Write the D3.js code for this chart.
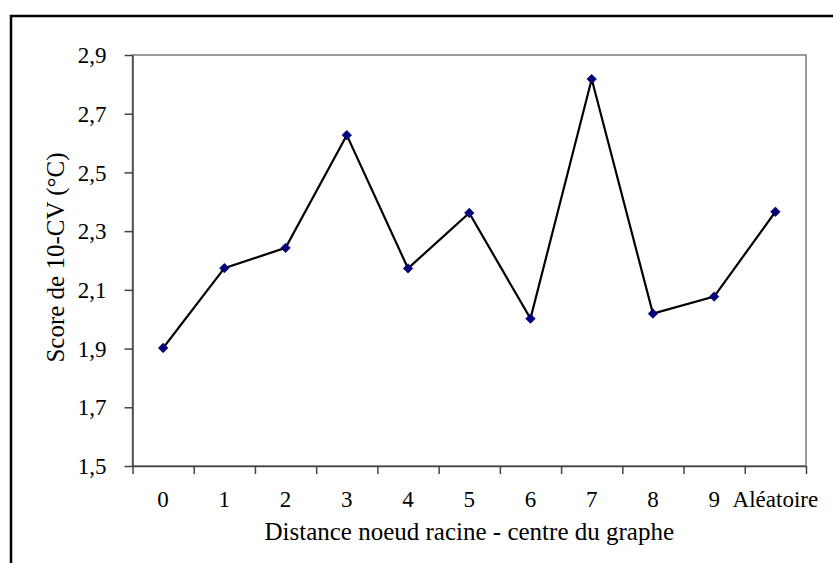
<!DOCTYPE html>
<html>
<head>
<meta charset="utf-8">
<script src="https://cdn.jsdelivr.net/npm/d3@7"></script>
<style>
  body { margin: 0; background: #fff; }
</style>
</head>
<body>
<div id="chart"></div>
<script>
// categories and values
var categories = ['0', '1', '2', '3', '4', '5', '6', '7', '8', '9', 'Aléatoire'];
var scores     = [1.902, 2.174, 2.243, 2.627, 2.173, 2.362, 2.002, 2.818, 2.019, 2.077, 2.366];
var yTicks     = [1.5, 1.7, 1.9, 2.1, 2.3, 2.5, 2.7, 2.9];

var xTitle = 'Distance noeud racine - centre du graphe',
    yTitle = 'Score de 10-CV (°C)';

var FONT = '"Liberation Serif", "Times New Roman", serif';

function draw_chart() {
	var W = 833, H = 563;
	var plot = { left: 132.5, top: 55, right: 806, bottom: 466 };

	var svg = d3.select('#chart').append('svg')
		.attr('width', W)
		.attr('height', H);

	// outer frame, runs off the right and bottom edges
	svg.append('rect')
		.attr('x', 11).attr('y', 16)
		.attr('width', W + 20).attr('height', H + 20)
		.style('fill', 'none')
		.style('stroke', '#000')
		.style('stroke-width', 2.5);

	var x = d3.scaleBand()
		.domain(categories)
		.range([plot.left, plot.right])
		.padding(0);

	// edges of the bands, for the tick marks
	var xEdge = d3.scaleLinear()
		.domain([0, categories.length])
		.range([plot.left, plot.right]);

	var y = d3.scaleLinear()
		.domain([1.5, 2.9])
		.range([plot.bottom, plot.top]);

	var frFormat = d3.formatLocale({ decimal: ',', thousands: ' ', grouping: [3], currency: ['', '€'] }).format('.1f');

	// plot area border (grey)
	svg.append('rect')
		.attr('x', plot.left).attr('y', plot.top)
		.attr('width', plot.right - plot.left)
		.attr('height', plot.bottom - plot.top)
		.style('fill', 'none')
		.style('stroke', '#7a7a7a')
		.style('stroke-width', 1.5);

	// y axis
	var yAxis = svg.append('g')
		.attr('transform', 'translate(' + plot.left + ',0)')
		.call(d3.axisLeft(y).tickValues(yTicks).tickFormat(frFormat).tickSize(8).tickPadding(18).tickSizeOuter(0));
	yAxis.selectAll('text')
		.style('font-family', FONT)
		.style('font-size', '23px')
		.style('fill', '#000')
		.attr('dy', '0.33em');

	// x axis: tick marks on band edges
	svg.append('g')
		.attr('transform', 'translate(0,' + plot.bottom + ')')
		.call(d3.axisBottom(xEdge).tickValues(d3.range(categories.length + 1)).tickFormat('').tickSize(8).tickSizeOuter(0));

	// x labels centred in the bands
	var xLabelAxis = svg.append('g')
		.attr('transform', 'translate(0,' + plot.bottom + ')')
		.call(d3.axisBottom(x).tickSize(0).tickPadding(0));
	xLabelAxis.select('.domain').remove();
	xLabelAxis.selectAll('text')
		.attr('y', 41)
		.attr('dy', 0)
		.style('font-family', FONT)
		.style('font-size', '23px')
		.style('fill', '#000');

	svg.selectAll('.domain, .tick line')
		.style('stroke', '#444')
		.style('stroke-width', 1.5);

	// axis titles
	svg.append('text')
		.attr('x', (plot.left + plot.right) / 2)
		.attr('y', 540)
		.attr('text-anchor', 'middle')
		.style('font-family', FONT)
		.style('font-size', '25px')
		.text(xTitle);

	svg.append('text')
		.attr('transform', 'translate(' + 64 + ',' + ((plot.top + plot.bottom) / 2 - 3) + ') rotate(-90)')
		.attr('text-anchor', 'middle')
		.style('font-family', FONT)
		.style('font-size', '25px')
		.text(yTitle);

	// series
	var line = d3.line()
		.x(function(d, i) { return x(categories[i]) + x.bandwidth() / 2; })
		.y(function(d) { return y(d); });

	svg.append('path')
		.datum(scores)
		.attr('d', line)
		.style('fill', 'none')
		.style('stroke', '#000')
		.style('stroke-width', 2.2)
		.style('stroke-linejoin', 'miter');

	var diamond = d3.symbol().type(d3.symbolDiamond2).size(56);
	svg.selectAll('.pt')
		.data(scores)
		.enter()
		.append('path')
			.attr('class', 'pt')
			.attr('d', diamond)
			.attr('transform', function(d, i) {
				return 'translate(' + (x(categories[i]) + x.bandwidth() / 2) + ',' + y(d) + ')';
			})
			.style('fill', '#000080')
			.style('stroke', '#000060')
			.style('stroke-width', 0.8);
}

draw_chart();
</script>
</body>
</html>
